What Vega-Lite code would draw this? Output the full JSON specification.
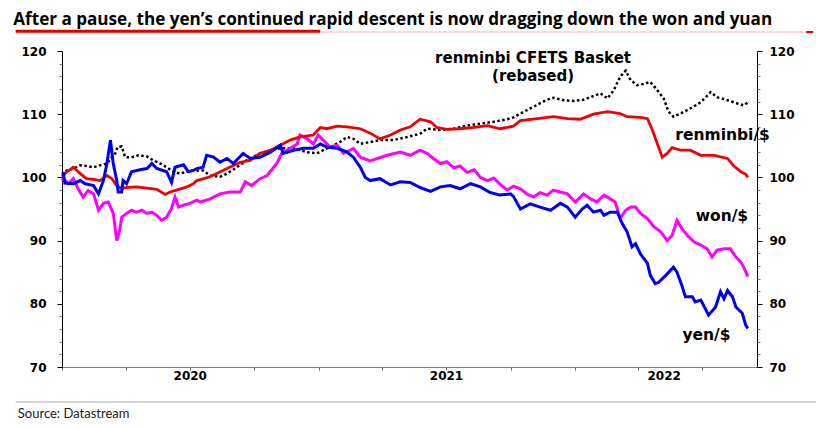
{
"$schema": "https://vega.github.io/schema/vega-lite/v6.json",
"width": 695, "height": 316,
"autosize": {"type": "none"},
"padding": {"left": 62, "top": 51, "right": 59, "bottom": 62},
"background": "white",
"config": {"view": {"stroke": null}, "axis": {"grid": false}},
"title": {"text": "After a pause, the yen’s continued rapid descent is now dragging down the won and yuan", "anchor": "start", "frame": "group", "font": "Open Sans", "fontSize": 17.1, "fontWeight": "bold", "color": "#000", "dx": -48.7, "dy": 18.5, "offset": 6, "baseline": "alphabetic"},
"data": {"values": [
{"series":"cfets","date":"2020-01-01","value":100.4},{"series":"cfets","date":"2020-01-08","value":101.1},{"series":"cfets","date":"2020-01-17","value":101.4},{"series":"cfets","date":"2020-01-27","value":101.9},{"series":"cfets","date":"2020-02-05","value":101.8},{"series":"cfets","date":"2020-02-15","value":101.6},{"series":"cfets","date":"2020-02-24","value":101.9},{"series":"cfets","date":"2020-03-05","value":102.2},{"series":"cfets","date":"2020-03-12","value":103.2},{"series":"cfets","date":"2020-03-17","value":103.8},{"series":"cfets","date":"2020-03-20","value":104.8},{"series":"cfets","date":"2020-03-26","value":104.9},{"series":"cfets","date":"2020-03-31","value":103.2},{"series":"cfets","date":"2020-04-09","value":103.2},{"series":"cfets","date":"2020-04-19","value":103.5},{"series":"cfets","date":"2020-05-01","value":103.3},{"series":"cfets","date":"2020-05-10","value":102.7},{"series":"cfets","date":"2020-05-20","value":102.2},{"series":"cfets","date":"2020-05-29","value":101.6},{"series":"cfets","date":"2020-06-08","value":100.9},{"series":"cfets","date":"2020-06-17","value":100.6},{"series":"cfets","date":"2020-06-27","value":100.9},{"series":"cfets","date":"2020-07-06","value":101.1},{"series":"cfets","date":"2020-07-20","value":101.1},{"series":"cfets","date":"2020-07-30","value":100.3},{"series":"cfets","date":"2020-08-13","value":100.1},{"series":"cfets","date":"2020-08-23","value":100.6},{"series":"cfets","date":"2020-09-06","value":101.6},{"series":"cfets","date":"2020-09-20","value":102.7},{"series":"cfets","date":"2020-10-09","value":103.8},{"series":"cfets","date":"2020-10-24","value":104.3},{"series":"cfets","date":"2020-11-07","value":104.6},{"series":"cfets","date":"2020-11-26","value":104.6},{"series":"cfets","date":"2020-12-15","value":104.0},{"series":"cfets","date":"2020-12-29","value":103.8},{"series":"cfets","date":"2021-01-07","value":104.3},{"series":"cfets","date":"2021-01-17","value":104.8},{"series":"cfets","date":"2021-01-31","value":105.6},{"series":"cfets","date":"2021-02-10","value":106.4},{"series":"cfets","date":"2021-02-19","value":106.1},{"series":"cfets","date":"2021-03-01","value":105.3},{"series":"cfets","date":"2021-03-15","value":105.6},{"series":"cfets","date":"2021-03-29","value":105.9},{"series":"cfets","date":"2021-04-17","value":105.9},{"series":"cfets","date":"2021-05-07","value":106.4},{"series":"cfets","date":"2021-05-25","value":106.9},{"series":"cfets","date":"2021-06-04","value":107.7},{"series":"cfets","date":"2021-06-23","value":107.5},{"series":"cfets","date":"2021-07-12","value":107.7},{"series":"cfets","date":"2021-07-31","value":108.2},{"series":"cfets","date":"2021-08-19","value":108.5},{"series":"cfets","date":"2021-09-07","value":108.8},{"series":"cfets","date":"2021-09-26","value":109.2},{"series":"cfets","date":"2021-10-05","value":109.5},{"series":"cfets","date":"2021-10-20","value":110.4},{"series":"cfets","date":"2021-11-03","value":111.2},{"series":"cfets","date":"2021-11-22","value":112.3},{"series":"cfets","date":"2021-12-01","value":112.6},{"series":"cfets","date":"2021-12-16","value":112.2},{"series":"cfets","date":"2021-12-30","value":112.1},{"series":"cfets","date":"2022-01-13","value":112.3},{"series":"cfets","date":"2022-01-23","value":112.7},{"series":"cfets","date":"2022-02-06","value":113.3},{"series":"cfets","date":"2022-02-16","value":112.5},{"series":"cfets","date":"2022-02-25","value":113.8},{"series":"cfets","date":"2022-03-06","value":115.9},{"series":"cfets","date":"2022-03-14","value":116.9},{"series":"cfets","date":"2022-03-21","value":115.4},{"series":"cfets","date":"2022-03-30","value":114.6},{"series":"cfets","date":"2022-04-09","value":114.8},{"series":"cfets","date":"2022-04-18","value":115.1},{"series":"cfets","date":"2022-04-28","value":113.8},{"series":"cfets","date":"2022-05-07","value":112.5},{"series":"cfets","date":"2022-05-14","value":110.4},{"series":"cfets","date":"2022-05-21","value":109.6},{"series":"cfets","date":"2022-05-31","value":110.1},{"series":"cfets","date":"2022-06-14","value":110.9},{"series":"cfets","date":"2022-06-29","value":111.9},{"series":"cfets","date":"2022-07-13","value":113.5},{"series":"cfets","date":"2022-07-22","value":112.7},{"series":"cfets","date":"2022-08-06","value":112.2},{"series":"cfets","date":"2022-08-20","value":111.7},{"series":"cfets","date":"2022-08-29","value":111.4},{"series":"cfets","date":"2022-09-04","value":111.9},
{"series":"won","date":"2020-01-01","value":99.5},{"series":"won","date":"2020-01-03","value":99.8},{"series":"won","date":"2020-01-10","value":99.0},{"series":"won","date":"2020-01-17","value":99.8},{"series":"won","date":"2020-01-24","value":98.2},{"series":"won","date":"2020-01-31","value":96.9},{"series":"won","date":"2020-02-07","value":97.9},{"series":"won","date":"2020-02-15","value":97.4},{"series":"won","date":"2020-02-22","value":94.8},{"series":"won","date":"2020-02-29","value":95.9},{"series":"won","date":"2020-03-07","value":96.1},{"series":"won","date":"2020-03-14","value":94.3},{"series":"won","date":"2020-03-19","value":90.0},{"series":"won","date":"2020-03-23","value":91.6},{"series":"won","date":"2020-03-26","value":93.7},{"series":"won","date":"2020-04-02","value":94.3},{"series":"won","date":"2020-04-09","value":94.8},{"series":"won","date":"2020-04-16","value":94.5},{"series":"won","date":"2020-04-24","value":94.8},{"series":"won","date":"2020-05-01","value":94.3},{"series":"won","date":"2020-05-08","value":94.5},{"series":"won","date":"2020-05-15","value":94.0},{"series":"won","date":"2020-05-22","value":93.2},{"series":"won","date":"2020-05-29","value":93.7},{"series":"won","date":"2020-06-05","value":95.1},{"series":"won","date":"2020-06-10","value":96.9},{"series":"won","date":"2020-06-15","value":95.3},{"series":"won","date":"2020-06-22","value":95.6},{"series":"won","date":"2020-07-01","value":95.9},{"series":"won","date":"2020-07-11","value":96.4},{"series":"won","date":"2020-07-16","value":96.1},{"series":"won","date":"2020-07-30","value":96.6},{"series":"won","date":"2020-08-13","value":97.4},{"series":"won","date":"2020-08-27","value":97.7},{"series":"won","date":"2020-09-11","value":97.7},{"series":"won","date":"2020-09-18","value":99.3},{"series":"won","date":"2020-09-27","value":98.7},{"series":"won","date":"2020-10-09","value":99.8},{"series":"won","date":"2020-10-19","value":100.3},{"series":"won","date":"2020-11-02","value":102.2},{"series":"won","date":"2020-11-09","value":103.8},{"series":"won","date":"2020-11-21","value":104.6},{"series":"won","date":"2020-12-01","value":105.3},{"series":"won","date":"2020-12-05","value":106.7},{"series":"won","date":"2020-12-15","value":106.1},{"series":"won","date":"2020-12-24","value":105.3},{"series":"won","date":"2020-12-31","value":106.7},{"series":"won","date":"2021-01-07","value":105.9},{"series":"won","date":"2021-01-17","value":104.8},{"series":"won","date":"2021-01-27","value":105.1},{"series":"won","date":"2021-02-05","value":103.8},{"series":"won","date":"2021-02-14","value":104.3},{"series":"won","date":"2021-02-19","value":104.6},{"series":"won","date":"2021-03-01","value":103.2},{"series":"won","date":"2021-03-15","value":102.6},{"series":"won","date":"2021-04-08","value":103.5},{"series":"won","date":"2021-04-27","value":104.0},{"series":"won","date":"2021-05-11","value":103.5},{"series":"won","date":"2021-05-25","value":104.3},{"series":"won","date":"2021-06-04","value":103.8},{"series":"won","date":"2021-06-13","value":103.0},{"series":"won","date":"2021-06-23","value":102.2},{"series":"won","date":"2021-07-02","value":102.5},{"series":"won","date":"2021-07-12","value":101.5},{"series":"won","date":"2021-07-21","value":101.8},{"series":"won","date":"2021-07-31","value":100.8},{"series":"won","date":"2021-08-10","value":101.2},{"series":"won","date":"2021-08-19","value":100.0},{"series":"won","date":"2021-08-29","value":99.5},{"series":"won","date":"2021-09-07","value":99.9},{"series":"won","date":"2021-09-16","value":98.9},{"series":"won","date":"2021-09-26","value":98.0},{"series":"won","date":"2021-10-05","value":98.6},{"series":"won","date":"2021-10-15","value":98.2},{"series":"won","date":"2021-10-25","value":97.3},{"series":"won","date":"2021-11-03","value":96.9},{"series":"won","date":"2021-11-12","value":97.6},{"series":"won","date":"2021-11-22","value":97.2},{"series":"won","date":"2021-12-01","value":98.0},{"series":"won","date":"2021-12-11","value":97.7},{"series":"won","date":"2021-12-21","value":97.4},{"series":"won","date":"2022-01-01","value":96.1},{"series":"won","date":"2022-01-13","value":97.4},{"series":"won","date":"2022-01-23","value":96.6},{"series":"won","date":"2022-02-01","value":96.1},{"series":"won","date":"2022-02-11","value":97.2},{"series":"won","date":"2022-02-20","value":96.6},{"series":"won","date":"2022-02-27","value":96.1},{"series":"won","date":"2022-03-06","value":93.5},{"series":"won","date":"2022-03-14","value":94.8},{"series":"won","date":"2022-03-21","value":95.3},{"series":"won","date":"2022-03-28","value":95.3},{"series":"won","date":"2022-04-04","value":94.3},{"series":"won","date":"2022-04-14","value":93.5},{"series":"won","date":"2022-04-23","value":92.2},{"series":"won","date":"2022-05-03","value":91.4},{"series":"won","date":"2022-05-12","value":90.0},{"series":"won","date":"2022-05-19","value":90.8},{"series":"won","date":"2022-05-26","value":93.2},{"series":"won","date":"2022-06-02","value":91.9},{"series":"won","date":"2022-06-10","value":90.8},{"series":"won","date":"2022-06-19","value":89.8},{"series":"won","date":"2022-06-29","value":89.3},{"series":"won","date":"2022-07-08","value":88.7},{"series":"won","date":"2022-07-15","value":87.4},{"series":"won","date":"2022-07-22","value":88.5},{"series":"won","date":"2022-08-01","value":88.7},{"series":"won","date":"2022-08-10","value":88.7},{"series":"won","date":"2022-08-18","value":87.4},{"series":"won","date":"2022-08-25","value":86.6},{"series":"won","date":"2022-08-29","value":85.8},{"series":"won","date":"2022-09-04","value":84.3},
{"series":"rmb","date":"2020-01-01","value":100.1},{"series":"rmb","date":"2020-01-08","value":100.9},{"series":"rmb","date":"2020-01-17","value":101.6},{"series":"rmb","date":"2020-01-27","value":100.6},{"series":"rmb","date":"2020-02-05","value":99.8},{"series":"rmb","date":"2020-02-15","value":99.7},{"series":"rmb","date":"2020-02-24","value":99.5},{"series":"rmb","date":"2020-03-05","value":100.3},{"series":"rmb","date":"2020-03-12","value":99.8},{"series":"rmb","date":"2020-03-19","value":98.7},{"series":"rmb","date":"2020-03-26","value":98.2},{"series":"rmb","date":"2020-04-02","value":98.4},{"series":"rmb","date":"2020-04-16","value":98.5},{"series":"rmb","date":"2020-05-01","value":98.3},{"series":"rmb","date":"2020-05-15","value":98.1},{"series":"rmb","date":"2020-05-27","value":97.3},{"series":"rmb","date":"2020-06-03","value":97.7},{"series":"rmb","date":"2020-06-12","value":98.0},{"series":"rmb","date":"2020-06-27","value":98.5},{"series":"rmb","date":"2020-07-06","value":99.0},{"series":"rmb","date":"2020-07-11","value":99.5},{"series":"rmb","date":"2020-07-30","value":100.1},{"series":"rmb","date":"2020-08-23","value":101.4},{"series":"rmb","date":"2020-09-11","value":102.4},{"series":"rmb","date":"2020-09-25","value":102.7},{"series":"rmb","date":"2020-10-09","value":103.8},{"series":"rmb","date":"2020-10-24","value":104.3},{"series":"rmb","date":"2020-11-07","value":105.1},{"series":"rmb","date":"2020-11-21","value":105.9},{"series":"rmb","date":"2020-12-05","value":106.4},{"series":"rmb","date":"2020-12-24","value":106.7},{"series":"rmb","date":"2021-01-03","value":107.9},{"series":"rmb","date":"2021-01-12","value":107.7},{"series":"rmb","date":"2021-01-27","value":108.1},{"series":"rmb","date":"2021-02-10","value":108.0},{"series":"rmb","date":"2021-03-01","value":107.7},{"series":"rmb","date":"2021-03-15","value":107.0},{"series":"rmb","date":"2021-03-29","value":106.1},{"series":"rmb","date":"2021-04-13","value":106.7},{"series":"rmb","date":"2021-04-27","value":107.5},{"series":"rmb","date":"2021-05-11","value":108.0},{"series":"rmb","date":"2021-05-25","value":109.2},{"series":"rmb","date":"2021-06-09","value":108.8},{"series":"rmb","date":"2021-06-18","value":107.9},{"series":"rmb","date":"2021-07-02","value":107.6},{"series":"rmb","date":"2021-07-21","value":107.7},{"series":"rmb","date":"2021-08-10","value":107.9},{"series":"rmb","date":"2021-08-29","value":108.2},{"series":"rmb","date":"2021-09-16","value":107.7},{"series":"rmb","date":"2021-10-05","value":108.1},{"series":"rmb","date":"2021-10-15","value":109.0},{"series":"rmb","date":"2021-11-08","value":109.3},{"series":"rmb","date":"2021-12-01","value":109.6},{"series":"rmb","date":"2021-12-21","value":109.3},{"series":"rmb","date":"2022-01-08","value":109.2},{"series":"rmb","date":"2022-01-27","value":110.0},{"series":"rmb","date":"2022-02-16","value":110.4},{"series":"rmb","date":"2022-03-06","value":110.1},{"series":"rmb","date":"2022-03-16","value":109.6},{"series":"rmb","date":"2022-04-04","value":109.5},{"series":"rmb","date":"2022-04-14","value":109.3},{"series":"rmb","date":"2022-04-21","value":107.5},{"series":"rmb","date":"2022-04-28","value":105.3},{"series":"rmb","date":"2022-05-05","value":103.2},{"series":"rmb","date":"2022-05-12","value":103.8},{"series":"rmb","date":"2022-05-19","value":104.7},{"series":"rmb","date":"2022-05-31","value":104.3},{"series":"rmb","date":"2022-06-14","value":104.3},{"series":"rmb","date":"2022-06-29","value":103.5},{"series":"rmb","date":"2022-07-18","value":103.5},{"series":"rmb","date":"2022-08-06","value":103.0},{"series":"rmb","date":"2022-08-15","value":101.8},{"series":"rmb","date":"2022-08-25","value":100.9},{"series":"rmb","date":"2022-09-01","value":100.5},{"series":"rmb","date":"2022-09-04","value":100.0},
{"series":"yen","date":"2020-01-01","value":100.5},{"series":"yen","date":"2020-01-03","value":100.6},{"series":"yen","date":"2020-01-05","value":99.1},{"series":"yen","date":"2020-01-17","value":99.0},{"series":"yen","date":"2020-01-27","value":99.5},{"series":"yen","date":"2020-02-03","value":99.0},{"series":"yen","date":"2020-02-15","value":98.7},{"series":"yen","date":"2020-02-22","value":97.4},{"series":"yen","date":"2020-02-29","value":99.5},{"series":"yen","date":"2020-03-05","value":102.2},{"series":"yen","date":"2020-03-10","value":105.9},{"series":"yen","date":"2020-03-14","value":102.2},{"series":"yen","date":"2020-03-19","value":99.5},{"series":"yen","date":"2020-03-21","value":97.7},{"series":"yen","date":"2020-03-26","value":97.7},{"series":"yen","date":"2020-03-28","value":99.5},{"series":"yen","date":"2020-04-02","value":99.0},{"series":"yen","date":"2020-04-09","value":100.9},{"series":"yen","date":"2020-04-21","value":101.2},{"series":"yen","date":"2020-05-01","value":101.4},{"series":"yen","date":"2020-05-08","value":102.2},{"series":"yen","date":"2020-05-15","value":101.4},{"series":"yen","date":"2020-05-29","value":100.9},{"series":"yen","date":"2020-06-05","value":99.2},{"series":"yen","date":"2020-06-10","value":101.6},{"series":"yen","date":"2020-06-22","value":102.0},{"series":"yen","date":"2020-06-29","value":100.9},{"series":"yen","date":"2020-07-06","value":101.1},{"series":"yen","date":"2020-07-11","value":101.4},{"series":"yen","date":"2020-07-20","value":101.6},{"series":"yen","date":"2020-07-25","value":103.5},{"series":"yen","date":"2020-08-04","value":103.2},{"series":"yen","date":"2020-08-13","value":102.4},{"series":"yen","date":"2020-08-23","value":103.0},{"series":"yen","date":"2020-09-01","value":102.2},{"series":"yen","date":"2020-09-15","value":103.8},{"series":"yen","date":"2020-09-25","value":103.0},{"series":"yen","date":"2020-10-09","value":103.2},{"series":"yen","date":"2020-10-24","value":104.0},{"series":"yen","date":"2020-11-07","value":105.1},{"series":"yen","date":"2020-11-11","value":103.8},{"series":"yen","date":"2020-11-26","value":104.3},{"series":"yen","date":"2020-12-10","value":104.6},{"series":"yen","date":"2020-12-24","value":104.6},{"series":"yen","date":"2021-01-03","value":105.3},{"series":"yen","date":"2021-01-12","value":104.8},{"series":"yen","date":"2021-01-27","value":104.6},{"series":"yen","date":"2021-02-10","value":104.0},{"series":"yen","date":"2021-02-19","value":103.2},{"series":"yen","date":"2021-03-01","value":101.6},{"series":"yen","date":"2021-03-08","value":100.0},{"series":"yen","date":"2021-03-15","value":99.5},{"series":"yen","date":"2021-03-29","value":99.8},{"series":"yen","date":"2021-04-13","value":98.8},{"series":"yen","date":"2021-04-27","value":99.3},{"series":"yen","date":"2021-05-11","value":99.2},{"series":"yen","date":"2021-05-25","value":98.4},{"series":"yen","date":"2021-06-09","value":97.8},{"series":"yen","date":"2021-06-23","value":98.5},{"series":"yen","date":"2021-07-07","value":98.7},{"series":"yen","date":"2021-07-21","value":98.2},{"series":"yen","date":"2021-08-05","value":99.0},{"series":"yen","date":"2021-08-19","value":98.5},{"series":"yen","date":"2021-09-02","value":97.6},{"series":"yen","date":"2021-09-16","value":97.2},{"series":"yen","date":"2021-10-01","value":97.4},{"series":"yen","date":"2021-10-05","value":97.0},{"series":"yen","date":"2021-10-15","value":95.0},{"series":"yen","date":"2021-10-29","value":95.8},{"series":"yen","date":"2021-11-12","value":95.3},{"series":"yen","date":"2021-11-27","value":94.8},{"series":"yen","date":"2021-12-11","value":95.9},{"series":"yen","date":"2021-12-21","value":95.3},{"series":"yen","date":"2022-01-01","value":93.7},{"series":"yen","date":"2022-01-11","value":95.0},{"series":"yen","date":"2022-01-18","value":95.6},{"series":"yen","date":"2022-01-27","value":94.5},{"series":"yen","date":"2022-02-06","value":94.8},{"series":"yen","date":"2022-02-11","value":94.0},{"series":"yen","date":"2022-02-20","value":94.5},{"series":"yen","date":"2022-03-02","value":94.5},{"series":"yen","date":"2022-03-09","value":92.7},{"series":"yen","date":"2022-03-16","value":91.4},{"series":"yen","date":"2022-03-23","value":89.0},{"series":"yen","date":"2022-03-28","value":89.5},{"series":"yen","date":"2022-04-04","value":87.9},{"series":"yen","date":"2022-04-14","value":86.4},{"series":"yen","date":"2022-04-18","value":84.5},{"series":"yen","date":"2022-04-25","value":83.2},{"series":"yen","date":"2022-04-30","value":83.4},{"series":"yen","date":"2022-05-10","value":84.5},{"series":"yen","date":"2022-05-21","value":85.8},{"series":"yen","date":"2022-05-26","value":85.0},{"series":"yen","date":"2022-06-02","value":82.9},{"series":"yen","date":"2022-06-07","value":81.1},{"series":"yen","date":"2022-06-17","value":81.1},{"series":"yen","date":"2022-06-21","value":80.3},{"series":"yen","date":"2022-06-29","value":80.6},{"series":"yen","date":"2022-07-10","value":78.2},{"series":"yen","date":"2022-07-20","value":79.5},{"series":"yen","date":"2022-07-27","value":81.9},{"series":"yen","date":"2022-08-01","value":80.8},{"series":"yen","date":"2022-08-06","value":82.1},{"series":"yen","date":"2022-08-13","value":81.1},{"series":"yen","date":"2022-08-18","value":79.5},{"series":"yen","date":"2022-08-27","value":78.5},{"series":"yen","date":"2022-09-01","value":76.6},{"series":"yen","date":"2022-09-04","value":76.1}
]},
"layer": [
{"data": {"values": [{}]}, "mark": {"type": "rule", "color": "#e00000", "strokeWidth": 3},
 "encoding": {"x": {"datum": {"year": 2019, "month": 10, "date": 27, "utc": true}, "type": "temporal", "axis": null}, "x2": {"datum": {"year": 2021, "month": 1, "date": 3, "utc": true}}, "y": {"datum": 123.12, "type": "quantitative", "axis": null}}},
{"data": {"values": [{}]}, "mark": {"type": "rule", "color": "#f0b4b4", "strokeWidth": 1},
 "encoding": {"x": {"datum": {"year": 2021, "month": 1, "date": 3, "utc": true}, "type": "temporal", "axis": null}, "x2": {"datum": {"year": 2022, "month": 11, "date": 24, "utc": true}}, "y": {"datum": 123.0, "type": "quantitative", "axis": null}}},
{"data": {"values": [{}]}, "mark": {"type": "rule", "color": "#e00000", "strokeWidth": 2},
 "encoding": {"x": {"datum": {"year": 2022, "month": 11, "date": 26, "utc": true}, "type": "temporal", "axis": null}, "x2": {"datum": {"year": 2022, "month": 12, "date": 6, "utc": true}}, "y": {"datum": 123.0, "type": "quantitative", "axis": null}}},
{"data": {"values": [{}]}, "mark": {"type": "rule", "color": "#aaaaaa", "strokeWidth": 1},
 "encoding": {"x": {"datum": {"year": 2019, "month": 10, "date": 27, "utc": true}, "type": "temporal", "axis": null}, "x2": {"datum": {"year": 2022, "month": 12, "date": 12, "utc": true}}, "y": {"datum": 64.46, "type": "quantitative", "axis": null}}},
{"transform": [{"filter": "datum.series === 'cfets'"}],
 "mark": {"type": "line", "color": "#000000", "strokeWidth": 2.5, "strokeDash": [2.5, 2.5]},
 "encoding": {
  "x": {"field": "date", "type": "temporal", "scale": {"domain": [{"year": 2020, "month": 1, "date": 1, "utc": true}, {"year": 2022, "month": 9, "date": 17, "utc": true}]},
        "axis": {"orient": "bottom", "values": [{"year": 2020, "month": 1, "date": 1, "utc": true}, {"year": 2020, "month": 4, "date": 1, "utc": true}, {"year": 2020, "month": 7, "date": 1, "utc": true}, {"year": 2020, "month": 10, "date": 1, "utc": true}, {"year": 2021, "month": 1, "date": 1, "utc": true}, {"year": 2021, "month": 4, "date": 1, "utc": true}, {"year": 2021, "month": 7, "date": 1, "utc": true}, {"year": 2021, "month": 10, "date": 1, "utc": true}, {"year": 2022, "month": 1, "date": 1, "utc": true}, {"year": 2022, "month": 4, "date": 1, "utc": true}, {"year": 2022, "month": 7, "date": 1, "utc": true}], "labels": false, "ticks": true, "tickSize": 3, "tickColor": "#666666", "domainColor": "#808080", "domainWidth": 1, "title": null, "grid": false}},
  "y": {"field": "value", "type": "quantitative", "scale": {"domain": [70, 120], "nice": false, "zero": false},
        "axis": {"orient": "left", "values": [70, 80, 90, 100, 110, 120], "title": null, "domainColor": "#000000", "domainWidth": 1, "tickColor": "#000000", "tickSize": 5, "labelFont": "DejaVu Sans", "labelFontSize": 12, "labelFontWeight": "bold", "labelColor": "#000000", "labelPadding": 11, "grid": false}}}},
{"transform": [{"filter": "datum.series === 'won'"}],
 "mark": {"type": "line", "color": "#ff00ff", "strokeWidth": 3},
 "encoding": {
  "x": {"field": "date", "type": "temporal",
        "axis": {"orient": "bottom", "values": [{"year": 2020, "month": 7, "date": 1, "utc": true}, {"year": 2021, "month": 7, "date": 1, "utc": true}, {"year": 2022, "month": 5, "date": 7, "utc": true}], "labelExpr": "utcFormat(datum.value, '%Y')", "ticks": false, "tickSize": 0, "domain": false, "labelFont": "DejaVu Sans", "labelFontSize": 12, "labelFontWeight": "bold", "labelColor": "#000000", "labelBaseline": "alphabetic", "labelPadding": 12, "labelAlign": "center", "labelOverlap": false, "labelFlush": false, "labelBound": false, "grid": false,
                 "title": "Source: Datastream", "titleFont": "Lato", "titleFontSize": 13, "titleFontWeight": "normal", "titleColor": "#222222", "titleX": -44.7, "titleY": 50.3, "titleAlign": "left", "titleBaseline": "alphabetic", "titleAnchor": "start"}},
  "y": {"field": "value", "type": "quantitative",
        "axis": {"orient": "right", "values": [70, 80, 90, 100, 110, 120], "title": null, "domainColor": "#000000", "domainWidth": 1, "tickColor": "#000000", "tickSize": 5, "labelFont": "DejaVu Sans", "labelFontSize": 12, "labelFontWeight": "bold", "labelColor": "#000000", "labelPadding": 7, "grid": false}}}},
{"transform": [{"filter": "datum.series === 'rmb'"}],
 "mark": {"type": "line", "color": "#f00000", "strokeWidth": 2.8},
 "encoding": {
  "x": {"field": "date", "type": "temporal", "axis": null},
  "y": {"field": "value", "type": "quantitative",
        "axis": {"orient": "left", "values": [72, 74, 76, 78, 82, 84, 86, 88, 92, 94, 96, 98, 102, 104, 106, 108, 112, 114, 116, 118], "labels": false, "domain": false, "tickSize": 3, "tickColor": "#777777", "title": null, "grid": false}}}},
{"transform": [{"filter": "datum.series === 'yen'"}],
 "mark": {"type": "line", "color": "#0000f0", "strokeWidth": 3},
 "encoding": {
  "x": {"field": "date", "type": "temporal", "axis": null},
  "y": {"field": "value", "type": "quantitative",
        "axis": {"orient": "right", "values": [72, 74, 76, 78, 82, 84, 86, 88, 92, 94, 96, 98, 102, 104, 106, 108, 112, 114, 116, 118], "labels": false, "domain": false, "tickSize": 3, "tickColor": "#777777", "title": null, "grid": false}}}},
{"data": {"values": [{}]}, "mark": {"type": "text", "text": "renminbi CFETS Basket", "font": "DejaVu Sans", "fontSize": 15, "fontWeight": "bold", "align": "center", "baseline": "alphabetic", "color": "#000000"},
 "encoding": {"x": {"datum": {"year": 2021, "month": 11, "date": 2, "utc": true}, "type": "temporal", "axis": null}, "y": {"datum": 118.1, "type": "quantitative", "axis": null}}},
{"data": {"values": [{}]}, "mark": {"type": "text", "text": "(rebased)", "font": "DejaVu Sans", "fontSize": 15, "fontWeight": "bold", "align": "center", "baseline": "alphabetic", "color": "#000000"},
 "encoding": {"x": {"datum": {"year": 2021, "month": 11, "date": 2, "utc": true}, "type": "temporal", "axis": null}, "y": {"datum": 115.2, "type": "quantitative", "axis": null}}},
{"data": {"values": [{}]}, "mark": {"type": "text", "text": "renminbi/$", "font": "DejaVu Sans", "fontSize": 15.5, "fontWeight": "bold", "align": "center", "baseline": "alphabetic", "color": "#000000"},
 "encoding": {"x": {"datum": {"year": 2022, "month": 7, "date": 30, "utc": true}, "type": "temporal", "axis": null}, "y": {"datum": 105.87, "type": "quantitative", "axis": null}}},
{"data": {"values": [{}]}, "mark": {"type": "text", "text": "won/$", "font": "DejaVu Sans", "fontSize": 15.5, "fontWeight": "bold", "align": "center", "baseline": "alphabetic", "color": "#000000"},
 "encoding": {"x": {"datum": {"year": 2022, "month": 7, "date": 29, "utc": true}, "type": "temporal", "axis": null}, "y": {"datum": 93.05, "type": "quantitative", "axis": null}}},
{"data": {"values": [{}]}, "mark": {"type": "text", "text": "yen/$", "font": "DejaVu Sans", "fontSize": 15.5, "fontWeight": "bold", "align": "center", "baseline": "alphabetic", "color": "#000000"},
 "encoding": {"x": {"datum": {"year": 2022, "month": 7, "date": 7, "utc": true}, "type": "temporal", "axis": null}, "y": {"datum": 74.2, "type": "quantitative", "axis": null}}}
],
"resolve": {"axis": {"x": "independent", "y": "independent"}}
}
